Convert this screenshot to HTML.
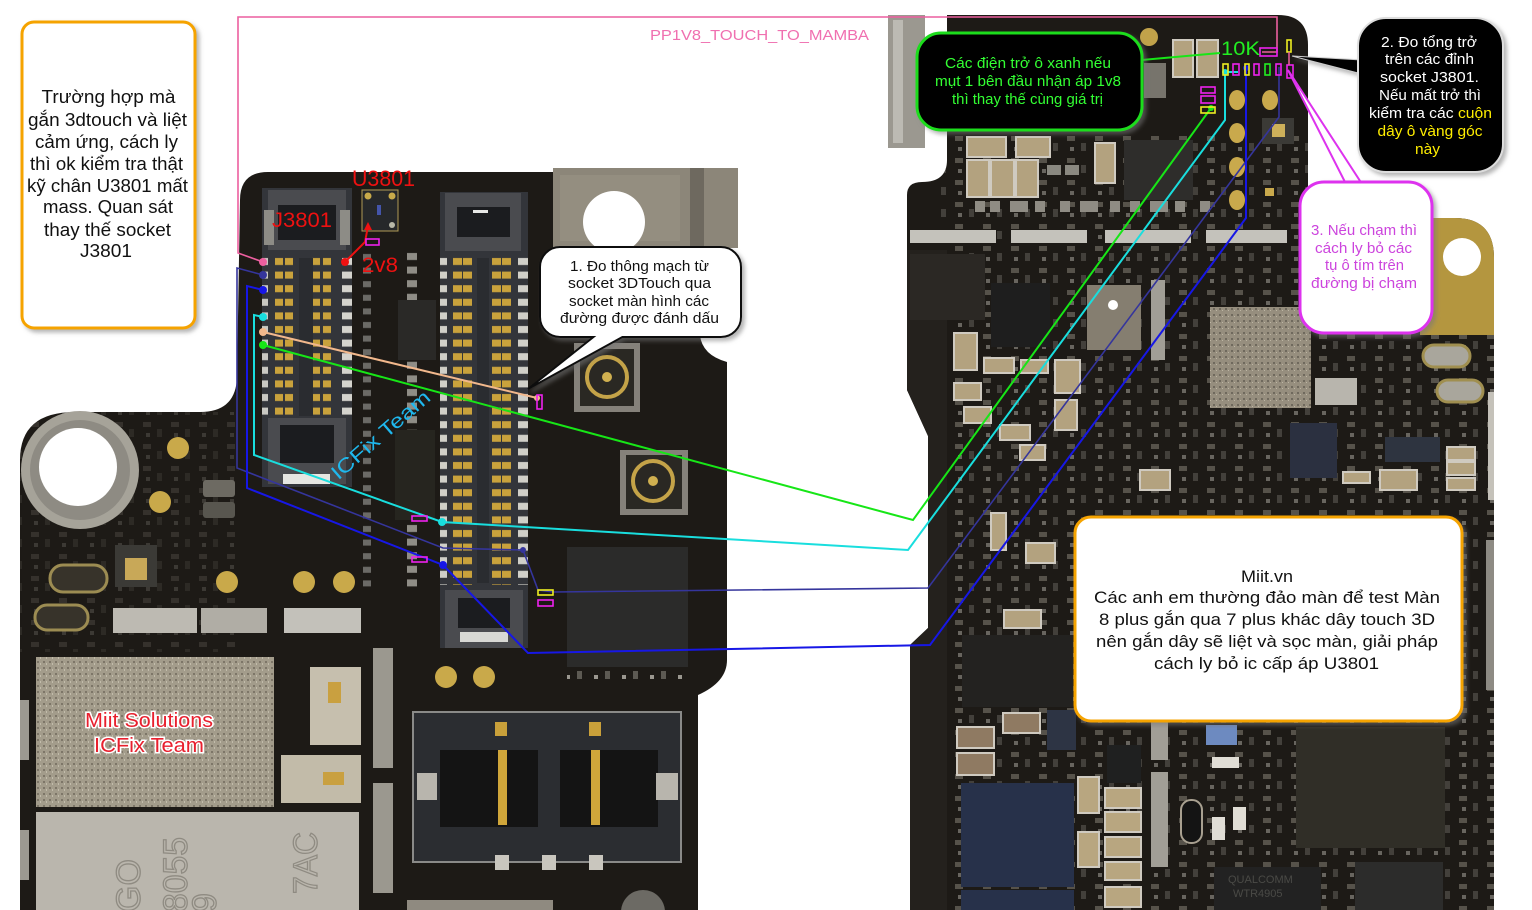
<!DOCTYPE html>
<html><head><meta charset="utf-8">
<style>
html,body{margin:0;padding:0;background:#fff;width:1532px;height:910px;overflow:hidden}
svg{display:block}
text{font-family:"Liberation Sans","DejaVu Sans",sans-serif}
</style></head><body>
<svg width="1532" height="910" viewBox="0 0 1532 910" xmlns="http://www.w3.org/2000/svg">
<defs>
 <filter id="sh" x="-10%" y="-10%" width="130%" height="130%">
  <feDropShadow dx="3" dy="3" stdDeviation="2" flood-color="#777" flood-opacity="0.55"/>
 </filter>
 <pattern id="p1" patternUnits="userSpaceOnUse" x="262" y="255" width="90" height="13.6">
  <rect x="0" y="3" width="6" height="7" fill="#c9c8c2"/>
  <rect x="13" y="3" width="8" height="7" fill="#c9a23c"/>
  <rect x="23" y="3" width="8" height="7" fill="#c9a23c"/>
  <rect x="50" y="3" width="8" height="7" fill="#c9a23c"/>
  <rect x="61" y="3" width="8" height="7" fill="#c9a23c"/>
  <rect x="80" y="3" width="10" height="7" fill="#d4d3cd"/>
 </pattern>
 <pattern id="p2" patternUnits="userSpaceOnUse" x="440" y="255" width="88" height="13.6">
  <rect x="0" y="3" width="7" height="7" fill="#d0cfc8"/>
  <rect x="13" y="3" width="9" height="7" fill="#c9a23c"/>
  <rect x="23" y="3" width="9" height="7" fill="#c9a23c"/>
  <rect x="52" y="3" width="9" height="7" fill="#c9a23c"/>
  <rect x="62" y="3" width="9" height="7" fill="#c9a23c"/>
  <rect x="78" y="3" width="10" height="7" fill="#d0cfc8"/>
 </pattern>
 <pattern id="pm" patternUnits="userSpaceOnUse" x="360" y="250" width="60" height="13.6">
  <rect x="3" y="4" width="8" height="6" fill="#6b6a66"/>
  <rect x="47" y="3" width="10" height="7" fill="#8f8d86"/>
 </pattern>
 <pattern id="tex" patternUnits="userSpaceOnUse" width="28" height="22">
  <rect x="3" y="4" width="8" height="5" fill="#7c776c"/>
  <rect x="17" y="11" width="5" height="8" fill="#5d5a53"/>
  <rect x="6" y="15" width="4" height="4" fill="#9a978f"/>
 </pattern>
 <pattern id="grain" patternUnits="userSpaceOnUse" width="6" height="6">
  <rect width="6" height="6" fill="#a39c8b"/>
  <rect x="1" y="1" width="2" height="2" fill="#7d7668"/>
  <rect x="4" y="3" width="1" height="2" fill="#c2bcab"/>
 </pattern>
 <pattern id="grain2" patternUnits="userSpaceOnUse" width="6" height="6">
  <rect width="6" height="6" fill="#968e7e"/>
  <rect x="1" y="2" width="2" height="2" fill="#6f695d"/>
  <rect x="4" y="4" width="1" height="1" fill="#bdb6a4"/>
 </pattern>
 <clipPath id="lbc"><path d="M240 200 Q240 172 268 172 L553 172 L553 168 L738 168 L738 248 L700 248 L700 335 Q702 355 727 362 L727 660 Q727 682 698 695 L698 910 L20 910 L20 460 Q20 412 75 412 L200 412 Q237 412 237 375 Z"/></clipPath>
 <clipPath id="rbc"><path d="M947 15 L1278 15 Q1308 15 1308 45 L1308 208 Q1308 218 1320 218 L1455 218 Q1494 218 1494 258 L1494 910 L910 910 L910 645 L928 628 L928 436 L907 390 L907 195 Q907 182 922 182 Q947 182 947 160 Z"/></clipPath>
</defs>

<rect width="1532" height="910" fill="#fff"/>

<!-- ================= LEFT BOARD ================= -->
<path d="M240 200 Q240 172 268 172 L553 172 L553 168 L738 168 L738 248 L700 248 L700 335 Q702 355 727 362 L727 660 Q727 682 698 695 L698 910 L20 910 L20 460 Q20 412 75 412 L200 412 Q237 412 237 375 Z" fill="#1d1a16"/>
<g clip-path="url(#lbc)">
 <rect x="20" y="412" width="220" height="240" fill="url(#tex)" opacity="0.25"/>
 <rect x="553" y="168" width="185" height="80" fill="#8c8679"/>
 <rect x="560" y="175" width="120" height="66" fill="#9a9486" opacity="0.6"/>
 <rect x="690" y="168" width="14" height="80" fill="#6e695f"/>
 <circle cx="614" cy="222" r="31" fill="#fff"/>
 <rect x="20" y="700" width="9" height="60" fill="#9c9991"/>
 <rect x="20" y="830" width="9" height="50" fill="#9c9991"/>
</g>

<circle cx="80" cy="470" r="59" fill="#a6a399"/>
<circle cx="80" cy="470" r="50" fill="#8e8b83"/>
<circle cx="78" cy="467" r="39" fill="#fff"/>

<!-- J3801 connector -->
<rect x="262" y="188" width="90" height="299" fill="#33353a"/>
<rect x="268" y="190" width="78" height="60" fill="#4a4b4f"/>
<rect x="278" y="205" width="58" height="35" fill="#1b1c1f"/>
<rect x="264" y="210" width="10" height="35" fill="#8d8c86"/>
<rect x="340" y="210" width="10" height="35" fill="#8d8c86"/>
<rect x="268" y="418" width="78" height="66" fill="#4a4b4f"/>
<rect x="280" y="425" width="54" height="38" fill="#1b1c1f"/>
<rect x="283" y="474" width="47" height="10" fill="#e6e6e2"/>
<rect x="262" y="255" width="90" height="163" fill="url(#p1)"/>
<rect x="299" y="258" width="14" height="158" fill="#2a2c30"/>

<rect x="360" y="250" width="60" height="340" fill="url(#pm)"/>
<rect x="398" y="300" width="38" height="60" fill="#2a2927"/>
<rect x="395" y="430" width="40" height="90" fill="#26251f"/>

<!-- U3801 -->
<rect x="362" y="190" width="36" height="41" fill="#26282a" stroke="#b09a55" stroke-width="1"/>
<circle cx="368" cy="196" r="3.5" fill="#c8aa4a"/>
<circle cx="392" cy="196" r="3.5" fill="#c8aa4a"/>
<circle cx="392" cy="225" r="3" fill="#b8b8a8"/>
<rect x="377" y="205" width="4" height="10" fill="#4455aa"/>

<!-- connector 2 -->
<rect x="440" y="192" width="88" height="456" fill="#33353a"/>
<rect x="445" y="193" width="76" height="58" fill="#4a4b4f"/>
<rect x="457" y="207" width="53" height="30" fill="#1b1c1f"/>
<rect x="473" y="210" width="15" height="3" fill="#e8e8e6"/>
<rect x="445" y="590" width="78" height="58" fill="#4a4b4f"/>
<rect x="458" y="598" width="52" height="30" fill="#1b1c1f"/>
<rect x="460" y="632" width="48" height="10" fill="#d8d8d4"/>
<rect x="440" y="255" width="88" height="330" fill="url(#p2)"/>
<rect x="477" y="258" width="12" height="325" fill="#2a2c30"/>

<!-- coax -->
<rect x="574" y="343" width="66" height="69" fill="#85817a"/>
<rect x="580" y="349" width="54" height="57" fill="#2a2823"/>
<circle cx="607" cy="377" r="20" fill="none" stroke="#c4a348" stroke-width="4"/>
<circle cx="607" cy="377" r="5" fill="#d0b050"/>
<rect x="620" y="450" width="68" height="65" fill="#85817a"/>
<rect x="626" y="455" width="56" height="54" fill="#2a2823"/>
<circle cx="653" cy="481" r="20" fill="none" stroke="#c4a348" stroke-width="4"/>
<circle cx="653" cy="481" r="5" fill="#d0b050"/>

<g fill="#c9a94a">
 <circle cx="178" cy="448" r="11"/>
 <circle cx="160" cy="502" r="11"/>
 <circle cx="227" cy="582" r="11"/>
 <circle cx="304" cy="582" r="11"/>
 <circle cx="344" cy="582" r="11"/>
 <circle cx="446" cy="677" r="11"/>
 <circle cx="484" cy="677" r="11"/>
</g>
<rect x="203" y="480" width="32" height="17" rx="3" fill="#6d6a62"/>
<rect x="203" y="502" width="32" height="16" rx="3" fill="#58564f"/>
<rect x="115" y="545" width="42" height="42" fill="#3b3a36"/>
<rect x="125" y="558" width="22" height="22" fill="#c8a858"/>
<rect x="50" y="565" width="57" height="27" rx="13" fill="#37332a" stroke="#9c8c52" stroke-width="3"/>
<rect x="35" y="605" width="53" height="25" rx="12" fill="#37332a" stroke="#9c8c52" stroke-width="3"/>
<rect x="113" y="608" width="84" height="25" fill="#bdbab2"/>
<rect x="201" y="608" width="66" height="25" fill="#b0ada5"/>
<rect x="284" y="608" width="77" height="25" fill="#c3c1ba"/>

<rect x="567" y="547" width="121" height="120" fill="#2b2b2a"/>
<rect x="567" y="670" width="121" height="13" fill="url(#tex)"/>

<rect x="36" y="657" width="238" height="150" fill="url(#grain)"/>
<rect x="36" y="812" width="323" height="98" fill="#bab6ad"/>
<rect x="310" y="667" width="51" height="78" fill="#c6bfae"/>
<rect x="328" y="682" width="13" height="21" fill="#c9a040"/>
<rect x="281" y="755" width="80" height="48" fill="#c2bba9"/>
<rect x="323" y="772" width="21" height="13" fill="#c9a040"/>
<rect x="373" y="648" width="20" height="120" fill="#9b988f"/>
<rect x="373" y="783" width="20" height="110" fill="#9b988f"/>
<g fill="none" stroke="#8f8b82" stroke-width="1.3" font-size="34">
 <text transform="translate(140,912) rotate(-90)">GO</text>
 <text transform="translate(187,912) rotate(-90)" textLength="75" lengthAdjust="spacingAndGlyphs">8055</text>
 <text transform="translate(216,912) rotate(-90)">9</text>
 <text transform="translate(317,894) rotate(-90)" textLength="62" lengthAdjust="spacingAndGlyphs">7AC</text>
</g>

<!-- battery connector -->
<rect x="413" y="712" width="268" height="150" fill="#2b2d31"/>
<rect x="440" y="750" width="98" height="77" fill="#141414"/>
<rect x="560" y="750" width="98" height="77" fill="#141414"/>
<rect x="498" y="750" width="9" height="75" fill="#d0a63a"/>
<rect x="591" y="750" width="9" height="75" fill="#d0a63a"/>
<rect x="417" y="773" width="20" height="27" fill="#b8b5ad"/>
<rect x="656" y="773" width="22" height="27" fill="#b8b5ad"/>
<rect x="413" y="712" width="268" height="150" fill="none" stroke="#8a8a88" stroke-width="2"/>
<rect x="495" y="722" width="12" height="14" fill="#c9a03a"/>
<rect x="589" y="722" width="12" height="14" fill="#c9a03a"/>
<rect x="495" y="855" width="14" height="15" fill="#c9c6be"/>
<rect x="542" y="855" width="14" height="15" fill="#c9c6be"/>
<rect x="589" y="855" width="14" height="15" fill="#c9c6be"/>
<rect x="407" y="900" width="146" height="10" fill="#8f8a80"/>
<circle cx="643" cy="912" r="22" fill="#6c6a64"/>

<!-- ================= RIGHT BOARD ================= -->
<rect x="888" y="15" width="37" height="133" fill="#9b9890"/>
<rect x="893" y="20" width="10" height="123" fill="#bcbab3"/>
<path d="M947 15 L1278 15 Q1308 15 1308 45 L1308 208 Q1308 218 1320 218 L1455 218 Q1494 218 1494 258 L1494 910 L910 910 L910 645 L928 628 L928 436 L907 390 L907 195 Q907 182 922 182 Q947 182 947 160 Z" fill="#1d1a16"/>
<g clip-path="url(#rbc)">
 <rect x="940" y="130" width="560" height="780" fill="url(#tex)" opacity="0.6"/>
 <rect x="907" y="250" width="40" height="660" fill="#24211d"/>
 <rect x="1420" y="218" width="80" height="117" fill="#b4963f"/>
 <rect x="1488" y="392" width="9" height="108" fill="#c5c2ba"/>
 <rect x="1486" y="540" width="10" height="150" fill="#8e8b84"/>
</g>
<circle cx="1462" cy="257" r="19" fill="#fff"/>

<circle cx="1149" cy="37" r="9" fill="#c1a24a"/>
<g fill="#b3a27f" stroke="#cfcac0" stroke-width="2">
 <rect x="1173" y="40" width="20" height="37"/>
 <rect x="1197" y="40" width="21" height="37"/>
 <rect x="967" y="137" width="39" height="20"/>
 <rect x="1016" y="137" width="34" height="20"/>
 <rect x="967" y="160" width="22" height="37"/>
 <rect x="991" y="160" width="23" height="37"/>
 <rect x="1016" y="160" width="22" height="37"/>
 <rect x="1095" y="143" width="20" height="40"/>
</g>
<rect x="1144" y="63" width="22" height="35" fill="#77746c"/>
<rect x="1124" y="140" width="69" height="60" fill="#2e2d2b"/>
<rect x="1047" y="165" width="14" height="10" fill="#8a8880"/>
<rect x="1065" y="165" width="14" height="10" fill="#8a8880"/>
<g fill="#c9a94c">
 <ellipse cx="1237" cy="100" rx="8" ry="10"/>
 <ellipse cx="1237" cy="133" rx="8" ry="10"/>
 <ellipse cx="1237" cy="167" rx="8" ry="10"/>
 <ellipse cx="1237" cy="200" rx="8" ry="10"/>
 <ellipse cx="1270" cy="100" rx="8" ry="10"/>
 <rect x="1265" y="188" width="9" height="8"/>
</g>
<rect x="1262" y="118" width="32" height="26" fill="#3b3a36"/>
<rect x="1272" y="124" width="13" height="13" fill="#cdb05a"/>
<g fill="#8f8c84">
 <rect x="975" y="201" width="10" height="11"/><rect x="990" y="201" width="10" height="11"/>
 <rect x="1010" y="201" width="18" height="11"/><rect x="1035" y="201" width="10" height="11"/>
 <rect x="1060" y="201" width="10" height="11"/><rect x="1080" y="201" width="18" height="11"/>
 <rect x="1110" y="201" width="10" height="11"/><rect x="1130" y="201" width="10" height="11"/>
 <rect x="1150" y="201" width="18" height="11"/><rect x="1175" y="201" width="10" height="11"/>
 <rect x="1200" y="201" width="10" height="11"/>
</g>
<g fill="#c4c2bb">
 <rect x="910" y="230" width="86" height="13"/>
 <rect x="1011" y="230" width="76" height="13"/>
 <rect x="1105" y="230" width="86" height="13"/>
 <rect x="1206" y="230" width="81" height="13"/>
</g>

<rect x="910" y="254" width="75" height="66" fill="#2b2824"/>
<rect x="991" y="283" width="59" height="64" fill="#1e1e1e"/>
<rect x="1087" y="285" width="54" height="65" fill="#857e70"/>
<circle cx="1113" cy="305" r="5" fill="#fff"/>
<rect x="1151" y="280" width="14" height="80" fill="#a19e96"/>
<rect x="1210" y="307" width="101" height="101" fill="url(#grain2)"/>
<g fill="#b3a27f" stroke="#cfcac0" stroke-width="2">
 <rect x="954" y="333" width="23" height="37"/>
 <rect x="984" y="358" width="30" height="15"/>
 <rect x="1021" y="360" width="27" height="13"/>
 <rect x="1055" y="360" width="25" height="33"/>
 <rect x="954" y="383" width="27" height="17"/>
 <rect x="964" y="407" width="27" height="16"/>
 <rect x="1000" y="425" width="30" height="15"/>
 <rect x="1055" y="400" width="22" height="30"/>
 <rect x="1020" y="445" width="25" height="15"/>
 <rect x="1140" y="470" width="30" height="20"/>
 <rect x="1380" y="470" width="37" height="20"/>
 <rect x="1343" y="472" width="27" height="11"/>
 <rect x="1447" y="447" width="28" height="13"/>
 <rect x="1447" y="462" width="28" height="13"/>
 <rect x="1447" y="478" width="28" height="12"/>
 <rect x="991" y="513" width="15" height="37"/>
 <rect x="1026" y="543" width="29" height="20"/>
 <rect x="1004" y="610" width="37" height="18"/>
</g>
<rect x="1423" y="345" width="47" height="22" rx="11" fill="#a9a69c" stroke="#a08f50" stroke-width="3"/>
<rect x="1437" y="380" width="46" height="22" rx="11" fill="#a9a69c" stroke="#a08f50" stroke-width="3"/>
<rect x="1315" y="378" width="42" height="27" fill="#b8b5ad"/>
<rect x="1290" y="423" width="47" height="55" fill="#2b3040"/>
<rect x="1385" y="437" width="55" height="25" fill="#2e3440"/>

<rect x="962" y="635" width="111" height="72" fill="#232220"/>
<g fill="#8f7a62" stroke="#cfcac0" stroke-width="2">
 <rect x="957" y="727" width="37" height="21"/>
 <rect x="957" y="753" width="37" height="22"/>
 <rect x="1003" y="713" width="37" height="20"/>
</g>
<rect x="1047" y="710" width="29" height="40" fill="#2d3444"/>
<rect x="1107" y="745" width="34" height="38" fill="#1f2020"/>
<rect x="961" y="783" width="113" height="104" fill="#27314a"/>
<rect x="961" y="890" width="113" height="20" fill="#27314a"/>
<g fill="#b8a680" stroke="#cfcac0" stroke-width="2">
 <rect x="1105" y="788" width="36" height="20"/>
 <rect x="1105" y="812" width="36" height="20"/>
 <rect x="1105" y="837" width="36" height="20"/>
 <rect x="1105" y="862" width="36" height="18"/>
 <rect x="1105" y="887" width="36" height="20"/>
 <rect x="1078" y="777" width="21" height="36"/>
 <rect x="1078" y="832" width="21" height="35"/>
</g>
<rect x="1151" y="722" width="17" height="38" fill="#a19e96"/>
<rect x="1151" y="772" width="17" height="95" fill="#a19e96"/>
<rect x="1181" y="800" width="21" height="43" rx="10" fill="#141414" stroke="#a8a090" stroke-width="2"/>
<rect x="1206" y="725" width="31" height="20" fill="#6d8ac0"/>
<rect x="1212" y="757" width="27" height="11" fill="#e0ddd5"/>
<rect x="1212" y="817" width="13" height="23" fill="#e0ddd5"/>
<rect x="1233" y="807" width="13" height="23" fill="#e0ddd5"/>
<rect x="1296" y="727" width="149" height="121" fill="#302e27"/>
<rect x="1214" y="867" width="107" height="43" fill="#222222"/>
<g fill="#4a4a46" font-size="11"><text x="1228" y="883">QUALCOMM</text><text x="1233" y="897">WTR4905</text></g>
<rect x="1355" y="862" width="88" height="48" fill="#2c2c2b"/>

<!-- ================= CONNECTOR LINES ================= -->
<g fill="none" stroke-linejoin="miter">
 <polyline points="263,262 238,253 238,17 1277,17 1277,52 1262,52" stroke="#ec5f9f" stroke-width="1.6"/>
 <polyline points="263,275 237,268 237,468 443,548 523,550 538,590 553,592 928,588 1279,117 1279,67" stroke="#35359c" stroke-width="1.6"/>
 <polyline points="263,290 247,286 247,488 443,565 528,653 930,645 1246,218 1246,66" stroke="#1717e6" stroke-width="2"/>
 <polyline points="263,317 254,315 254,455 442,522 908,550 1225,120 1225,72 1238,72" stroke="#19dede" stroke-width="2"/>
 <polyline points="263,345 913,520 1211,108" stroke="#17e617" stroke-width="2"/>
 <line x1="1142" y1="60" x2="1220" y2="53" stroke="#17e617" stroke-width="2"/>
 <line x1="263" y1="332" x2="537" y2="398" stroke="#f2b88c" stroke-width="2"/>
 <polyline points="368,226 365,242 345,262" stroke="#ee1111" stroke-width="2"/>
</g>
<polygon points="368,222 364,230 372,230" fill="#ee1111"/>
<g>
 <circle cx="263" cy="262" r="4" fill="#ec5f9f"/>
 <circle cx="263" cy="275" r="4" fill="#35359c"/>
 <circle cx="263" cy="290" r="4" fill="#1717e6"/>
 <circle cx="263" cy="317" r="4" fill="#19dede"/>
 <circle cx="263" cy="332" r="4" fill="#f2b88c"/>
 <circle cx="263" cy="345" r="4" fill="#17e617"/>
 <circle cx="442" cy="522" r="4" fill="#19dede"/>
 <circle cx="443" cy="565" r="4" fill="#1717e6"/>
 <circle cx="523" cy="550" r="3" fill="#35359c"/>
 <circle cx="345" cy="262" r="4" fill="#ee1111"/>
 <circle cx="537" cy="398" r="3" fill="#f2b88c"/>
 <circle cx="1211" cy="108" r="3" fill="#17e617"/>
 <circle cx="1225" cy="72" r="3" fill="#19dede"/>
 <circle cx="1246" cy="68" r="3" fill="#1717e6"/>
</g>
<g fill="none" stroke-width="1.6">
 <rect x="537" y="395" width="5" height="14" stroke="#ee22ee"/>
 <rect x="366" y="239" width="13" height="6" stroke="#ee22ee"/>
 <rect x="412" y="516" width="15" height="5" stroke="#ee22ee"/>
 <rect x="412" y="557" width="15" height="5" stroke="#ee22ee"/>
 <rect x="538" y="590" width="15" height="5" stroke="#eeee22"/>
 <rect x="538" y="600" width="15" height="6" stroke="#ee22ee"/>
 <rect x="1260" y="48" width="17" height="8" stroke="#ee22ee"/>
 <rect x="1223" y="64" width="5" height="11" stroke="#eeee22"/>
 <rect x="1233" y="64" width="6" height="11" stroke="#ee22ee"/>
 <rect x="1245" y="64" width="4" height="11" stroke="#eeee22"/>
 <rect x="1254" y="64" width="5" height="11" stroke="#ee22ee"/>
 <rect x="1265" y="64" width="5" height="11" stroke="#22ee22"/>
 <rect x="1276" y="64" width="5" height="11" stroke="#ee22ee"/>
 <rect x="1287" y="40" width="4" height="12" stroke="#eeee22"/>
 <rect x="1287" y="65" width="6" height="13" stroke="#ee22ee"/>
 <rect x="1201" y="87" width="14" height="6" stroke="#ee22ee"/>
 <rect x="1201" y="96" width="14" height="7" stroke="#ee22ee"/>
 <rect x="1201" y="107" width="14" height="6" stroke="#eeee22"/>
</g>
<line x1="1289" y1="52" x2="1289" y2="65" stroke="#ec5f9f" stroke-width="1.5"/>

<text x="650" y="40" font-size="15" fill="#f070b0" textLength="219" lengthAdjust="spacingAndGlyphs">PP1V8_TOUCH_TO_MAMBA</text>
<text x="352" y="186" font-size="22" fill="#ee1111" textLength="63" lengthAdjust="spacingAndGlyphs">U3801</text>
<text x="272" y="227" font-size="21" fill="#ee1111" textLength="60" lengthAdjust="spacingAndGlyphs">J3801</text>
<text x="362" y="272" font-size="21" fill="#ee1111" textLength="36" lengthAdjust="spacingAndGlyphs">2v8</text>
<text x="1221" y="55" font-size="19" fill="#22ee22" textLength="39" lengthAdjust="spacingAndGlyphs">10K</text>
<text transform="translate(385,440) rotate(-41)" text-anchor="middle" font-size="20" fill="#1fb8ee" textLength="124" lengthAdjust="spacingAndGlyphs">ICFix Team</text>
<g font-size="20" fill="#e8202e" stroke="#fff" stroke-width="3" paint-order="stroke" text-anchor="middle">
 <text x="149" y="727" textLength="128" lengthAdjust="spacingAndGlyphs">Miit Solutions</text>
 <text x="149" y="752" textLength="110" lengthAdjust="spacingAndGlyphs">ICFix Team</text>
</g>

<!-- ================= CALLOUTS ================= -->
<rect x="22" y="22" width="173" height="306" rx="12" fill="#fff" stroke="#f5a300" stroke-width="3" filter="url(#sh)"/>
<g font-size="18" fill="#111" text-anchor="middle">
 <text x="108.5" y="103" textLength="134" lengthAdjust="spacingAndGlyphs">Trường hợp mà</text>
 <text x="107.5" y="126" textLength="159" lengthAdjust="spacingAndGlyphs">gắn 3dtouch và liệt</text>
 <text x="106.5" y="148" textLength="143" lengthAdjust="spacingAndGlyphs">cảm ứng, cách ly</text>
 <text x="106.5" y="170" textLength="153" lengthAdjust="spacingAndGlyphs">thì ok kiểm tra thật</text>
 <text x="107.5" y="192" textLength="161" lengthAdjust="spacingAndGlyphs">kỹ chân U3801 mất</text>
 <text x="108" y="213" textLength="130" lengthAdjust="spacingAndGlyphs">mass. Quan sát</text>
 <text x="107.5" y="236" textLength="127" lengthAdjust="spacingAndGlyphs">thay thế socket</text>
 <text x="106" y="257" textLength="52" lengthAdjust="spacingAndGlyphs">J3801</text>
</g>

<g filter="url(#sh)">
 <rect x="540" y="247" width="201" height="90" rx="20" fill="#fff" stroke="#111" stroke-width="2"/>
 <polygon points="528,389 596,335 626,335" fill="#fff" stroke="#111" stroke-width="2"/>
 <rect x="585" y="330" width="50" height="6" fill="#fff"/>
</g>
<g font-size="15" fill="#111" text-anchor="middle">
 <text x="639.5" y="271" textLength="139" lengthAdjust="spacingAndGlyphs">1. Đo thông mạch từ</text>
 <text x="639.5" y="288" textLength="143" lengthAdjust="spacingAndGlyphs">socket 3DTouch qua</text>
 <text x="639" y="306" textLength="140" lengthAdjust="spacingAndGlyphs">socket màn hình các</text>
 <text x="639.5" y="323" textLength="159" lengthAdjust="spacingAndGlyphs">đường được đánh dấu</text>
</g>

<rect x="917" y="33" width="225" height="97" rx="24" fill="#000" stroke="#1fdd1f" stroke-width="3" filter="url(#sh)"/>
<g font-size="15" fill="#33ff33" text-anchor="middle">
 <text x="1028" y="68" textLength="166" lengthAdjust="spacingAndGlyphs">Các điện trở ô xanh nếu</text>
 <text x="1028" y="86" textLength="186" lengthAdjust="spacingAndGlyphs">mụt 1 bên đầu nhận áp 1v8</text>
 <text x="1027.5" y="104" textLength="151" lengthAdjust="spacingAndGlyphs">thì thay thế cùng giá trị</text>
</g>

<g filter="url(#sh)">
 <polygon points="1292,56 1362,60 1362,74" fill="#000" stroke="#ccc" stroke-width="1"/>
 <rect x="1358" y="18" width="145" height="154" rx="28" fill="#000" stroke="#ddd" stroke-width="2"/>
</g>
<g font-size="15" fill="#fff" text-anchor="middle">
 <text x="1429" y="47" textLength="96" lengthAdjust="spacingAndGlyphs">2. Đo tổng trở</text>
 <text x="1429.5" y="64" textLength="89" lengthAdjust="spacingAndGlyphs">trên các đỉnh</text>
 <text x="1429.5" y="82" textLength="99" lengthAdjust="spacingAndGlyphs">socket J3801.</text>
 <text x="1430" y="100" textLength="102" lengthAdjust="spacingAndGlyphs">Nếu mất trở thì</text>
 <text x="1430.5" y="118" textLength="123" lengthAdjust="spacingAndGlyphs">kiểm tra các <tspan fill="#ffee00">cuộn</tspan></text>
 <text x="1430" y="136" textLength="105" lengthAdjust="spacingAndGlyphs" fill="#ffee00">dây ô vàng góc</text>
 <text x="1427.5" y="154" textLength="25" lengthAdjust="spacingAndGlyphs" fill="#ffee00">này</text>
</g>

<polygon points="1288,70 1346,184 1362,184" fill="#fff" stroke="#dd33ee" stroke-width="2"/>
<rect x="1300" y="182" width="132" height="151" rx="24" fill="#fff" stroke="#dd33ee" stroke-width="3" filter="url(#sh)"/>
<g font-size="15" fill="#cc44dd" text-anchor="middle">
 <text x="1364" y="235" textLength="106" lengthAdjust="spacingAndGlyphs">3. Nếu chạm thì</text>
 <text x="1363.5" y="253" textLength="97" lengthAdjust="spacingAndGlyphs">cách ly bỏ các</text>
 <text x="1364.5" y="270" textLength="79" lengthAdjust="spacingAndGlyphs">tụ ô tím trên</text>
 <text x="1364" y="288" textLength="106" lengthAdjust="spacingAndGlyphs">đường bị chạm</text>
</g>

<rect x="1075" y="517" width="387" height="204" rx="16" fill="#fff" stroke="#f5a300" stroke-width="3" filter="url(#sh)"/>
<g font-size="17" fill="#111" text-anchor="middle">
 <text x="1267" y="582" textLength="52" lengthAdjust="spacingAndGlyphs">Miit.vn</text>
 <text x="1267" y="603" textLength="346" lengthAdjust="spacingAndGlyphs">Các anh em thường đảo màn để test Màn</text>
 <text x="1267" y="625" textLength="336" lengthAdjust="spacingAndGlyphs">8 plus gắn qua 7 plus khác dây touch 3D</text>
 <text x="1267" y="647" textLength="342" lengthAdjust="spacingAndGlyphs">nên gắn dây sẽ liệt và sọc màn, giải pháp</text>
 <text x="1266.5" y="669" textLength="225" lengthAdjust="spacingAndGlyphs">cách ly bỏ ic cấp áp U3801</text>
</g>
</svg>
</body></html>
